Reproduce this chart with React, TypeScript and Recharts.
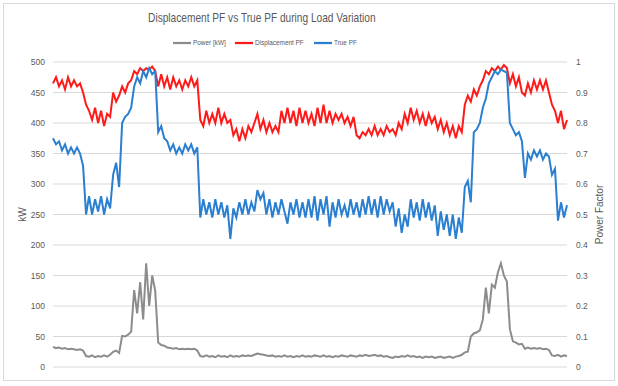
import { CartesianGrid, Label, Legend, Line, LineChart, XAxis, YAxis } from "recharts";

// readings taken every ~3px across the plot, left to right
const power = [
  33, 31, 32, 30, 31, 29, 30, 29, 28, 29,
  27, 18, 17, 19, 16, 18, 17, 19, 17, 20,
  25, 27, 23, 51, 50, 53, 58, 126, 88, 139,
  78, 170, 100, 150, 125, 40, 36, 35, 32, 31,
  30, 31, 29, 30, 29, 30, 29, 30, 27, 18,
  17, 19, 17, 18, 16, 19, 17, 18, 16, 19,
  17, 18, 17, 19, 18, 19, 18, 20, 22, 21,
  20, 19, 18, 19, 17, 18, 17, 19, 17, 18,
  16, 18, 17, 19, 17, 18, 17, 19, 18, 17,
  19, 17, 18, 16, 18, 17, 19, 18, 17, 19,
  18, 17, 19, 18, 20, 18, 19, 20, 18, 19,
  17, 18, 16, 15, 17, 16, 18, 17, 19, 17,
  18, 16, 17, 15, 17, 16, 17, 15, 16, 17,
  15, 16, 17, 15, 17, 18, 20, 24, 25, 50,
  55, 57, 60, 78, 130, 88, 135, 130, 155, 170,
  150, 140, 62, 42, 40, 37, 38, 30, 32, 30,
  31, 30, 31, 29, 30, 28, 19, 18, 20, 17,
  19, 18,
];

const displacementPf = [
  0.93, 0.95, 0.92, 0.94, 0.91, 0.95, 0.92, 0.94, 0.92, 0.93,
  0.9, 0.86, 0.84, 0.81, 0.85, 0.8, 0.84, 0.79, 0.83, 0.82,
  0.9, 0.87, 0.89, 0.92, 0.9, 0.93, 0.94, 0.97, 0.96, 0.98,
  0.97, 0.98, 0.975, 0.985, 0.97, 0.92, 0.96, 0.92, 0.95, 0.91,
  0.95, 0.92, 0.94, 0.91, 0.94, 0.92, 0.95, 0.92, 0.94, 0.81,
  0.79, 0.84, 0.8, 0.83, 0.8, 0.85, 0.8, 0.83, 0.8, 0.81,
  0.76, 0.78, 0.74, 0.78, 0.75, 0.79, 0.77, 0.8, 0.83, 0.78,
  0.81, 0.77, 0.8, 0.77, 0.79, 0.77, 0.84, 0.8, 0.85, 0.8,
  0.84, 0.79, 0.85, 0.8, 0.84, 0.8, 0.83, 0.79, 0.85, 0.8,
  0.86, 0.8, 0.84, 0.8, 0.83, 0.81, 0.83, 0.8, 0.82, 0.79,
  0.82, 0.76, 0.75, 0.77, 0.76, 0.78, 0.76, 0.79, 0.76, 0.78,
  0.76, 0.79, 0.77, 0.78, 0.76, 0.8, 0.78, 0.83, 0.8, 0.85,
  0.81, 0.84, 0.8, 0.83, 0.79, 0.83, 0.8, 0.82, 0.78, 0.81,
  0.77, 0.8, 0.76, 0.79, 0.75, 0.79, 0.77, 0.86, 0.89, 0.87,
  0.91, 0.89, 0.92, 0.94, 0.97, 0.96, 0.98, 0.97, 0.985, 0.975,
  0.99, 0.98, 0.93, 0.96, 0.92, 0.95, 0.9, 0.89, 0.93, 0.9,
  0.94, 0.91, 0.94, 0.91, 0.94, 0.9, 0.86, 0.84, 0.8, 0.84,
  0.78, 0.81,
];

const truePf = [
  0.75, 0.73, 0.74, 0.71, 0.73, 0.7, 0.72, 0.7, 0.72, 0.7,
  0.66, 0.5, 0.56, 0.5, 0.55, 0.51, 0.56, 0.5, 0.55, 0.52,
  0.63, 0.67, 0.59, 0.8, 0.82, 0.83, 0.85, 0.92, 0.95, 0.93,
  0.97, 0.95, 0.98, 0.96, 0.97, 0.77, 0.79, 0.75, 0.74, 0.71,
  0.73, 0.7, 0.72, 0.7, 0.73, 0.71, 0.73, 0.7, 0.72, 0.49,
  0.55, 0.5, 0.54, 0.49, 0.55, 0.5, 0.54, 0.49, 0.53, 0.42,
  0.52, 0.49, 0.54, 0.5, 0.55, 0.5, 0.54, 0.51, 0.58, 0.55,
  0.57, 0.5, 0.55, 0.49, 0.54, 0.5, 0.55, 0.51, 0.47, 0.54,
  0.5, 0.55, 0.49, 0.54, 0.49, 0.55, 0.49, 0.56, 0.48, 0.55,
  0.5, 0.56, 0.46, 0.54, 0.49, 0.55, 0.5, 0.53, 0.49, 0.55,
  0.5, 0.54, 0.49, 0.55, 0.5, 0.56, 0.5, 0.55, 0.49, 0.56,
  0.5, 0.55, 0.51, 0.54, 0.46, 0.52, 0.44, 0.5, 0.46, 0.55,
  0.49, 0.54, 0.48, 0.55, 0.49, 0.54, 0.48, 0.53, 0.43, 0.51,
  0.45, 0.5, 0.43, 0.5, 0.42, 0.49, 0.44, 0.59, 0.61, 0.54,
  0.77, 0.78, 0.8, 0.85, 0.88, 0.93, 0.95, 0.97, 0.96, 0.975,
  0.97, 0.965, 0.8, 0.78, 0.76, 0.77, 0.74, 0.62, 0.7, 0.68,
  0.71, 0.69, 0.71, 0.68, 0.7, 0.69, 0.63, 0.65, 0.48, 0.54,
  0.49, 0.53,
];

const kwTicks = [0, 50, 100, 150, 200, 250, 300, 350, 400, 450, 500];
const pfTicks = [0, 0.1, 0.2, 0.3, 0.4, 0.5, 0.6, 0.7, 0.8, 0.9, 1];

const data = power.map((p, i) => ({
  idx: i,
  power: p,
  disp: displacementPf[i],
  truePf: truePf[i],
}));

const FONT = "'Liberation Sans', Arial, sans-serif";
const TEXT = "#595959";
const tick = { fontSize: 8.5, fill: TEXT, fontFamily: FONT };

const legendOrder = ["power", "disp", "truePf"];
const legendTextWidth: Record<string, number> = { power: 33, disp: 50, truePf: 24 };

function ExcelLegend(props: any) {
  const items = [...(props.payload ?? [])].sort(
    (a: any, b: any) => legendOrder.indexOf(String(a.dataKey)) - legendOrder.indexOf(String(b.dataKey))
  );
  return (
    <div
      style={{
        display: "flex",
        justifyContent: "center",
        alignItems: "center",
        gap: 9,
        fontFamily: FONT,
        fontSize: 8,
        color: TEXT,
      }}
    >
      {items.map((it: any) => (
        <div key={String(it.dataKey)} style={{ display: "flex", alignItems: "center" }}>
          <svg width={18} height={6}>
            <line x1={0} y1={3} x2={18} y2={3} stroke={it.color} strokeWidth={2.25} />
          </svg>
          <span
            style={{
              display: "inline-block",
              width: legendTextWidth[String(it.dataKey)],
              marginLeft: 2,
              whiteSpace: "nowrap",
            }}
          >
            <span style={{ display: "inline-block", transform: "scaleX(0.8)", transformOrigin: "left center" }}>
              {it.value}
            </span>
          </span>
        </div>
      ))}
    </div>
  );
}

export default function App() {
  return (
    <div style={{ position: "fixed", left: 0, top: 0, width: 618, height: 386, background: "#fff" }}>
      <div
        style={{
          position: "absolute",
          left: 3,
          top: 3,
          width: 610,
          height: 376,
          border: "1px solid #d9d9d9",
        }}
      />
      <div
        style={{
          position: "absolute",
          top: 10,
          left: 0,
          width: 523,
          textAlign: "center",
          fontFamily: FONT,
          fontSize: 13,
          color: TEXT,
          whiteSpace: "nowrap",
        }}
      >
        <span style={{ display: "inline-block", transform: "scaleX(0.78)", transformOrigin: "center" }}>
          Displacement PF vs True PF during Load Variation
        </span>
      </div>
      <LineChart width={618} height={386} data={data} margin={{ top: 62, right: 11, bottom: 19, left: 13 }}>
        <CartesianGrid vertical={false} stroke="#d9d9d9" yAxisId="kw" />
        <XAxis dataKey="idx" type="category" scale="point" hide />
        <YAxis
          yAxisId="kw"
          width={40}
          domain={[0, 500]}
          ticks={kwTicks}
          interval={0}
          axisLine={false}
          tickLine={false}
          tick={tick}
        >
          <Label
            value="kW"
            angle={-90}
            position="insideLeft"
            offset={9}
            style={{ textAnchor: "middle", fontSize: 10, fill: TEXT, fontFamily: FONT }}
          />
        </YAxis>
        <YAxis
          yAxisId="pf"
          orientation="right"
          width={40}
          domain={[0, 1]}
          ticks={pfTicks}
          interval={0}
          axisLine={false}
          tickLine={false}
          tickMargin={3}
          tick={tick}
          tickFormatter={(v: number) => String(Math.round(v * 10) / 10)}
        >
          <Label
            value="Power Factor"
            angle={-90}
            position="insideRight"
            offset={8}
            style={{ textAnchor: "middle", fontSize: 10, fill: TEXT, fontFamily: FONT }}
          />
        </YAxis>
        <Legend
          verticalAlign="middle"
          align="center"
          wrapperStyle={{ top: 38, left: 0, width: 530 }}
          content={<ExcelLegend />}
        />
        <Line
          yAxisId="kw"
          type="linear"
          dataKey="power"
          name="Power [kW]"
          stroke="#8c8c8c"
          strokeWidth={2}
          dot={false}
          isAnimationActive={false}
        />
        <Line
          yAxisId="pf"
          type="linear"
          dataKey="disp"
          name="Displacement PF"
          stroke="#ff1a1a"
          strokeWidth={2}
          dot={false}
          isAnimationActive={false}
        />
        <Line
          yAxisId="pf"
          type="linear"
          dataKey="truePf"
          name="True PF"
          stroke="#2a7fd0"
          strokeWidth={2}
          dot={false}
          isAnimationActive={false}
        />
      </LineChart>
    </div>
  );
}
